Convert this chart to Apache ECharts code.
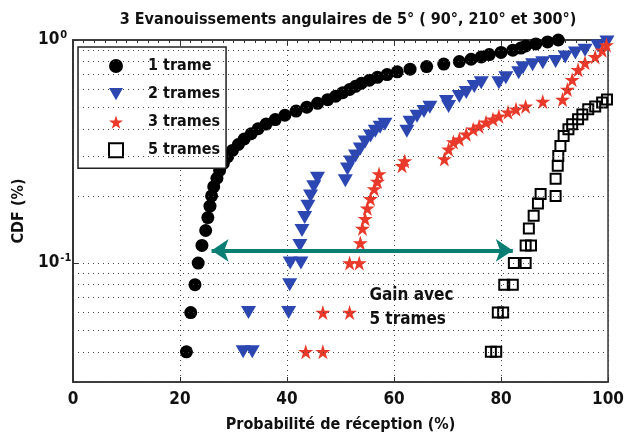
<!DOCTYPE html>
<html>
<head>
<meta charset="utf-8">
<script src="https://cdn.jsdelivr.net/npm/echarts@6/dist/echarts.min.js"></script>
<style>html,body{margin:0;padding:0;background:#fff}#c{width:627px;height:438px}</style>
</head>
<body>
<div id="c"></div>
<script>
// ---- data ----
const xTicks = [0, 20, 40, 60, 80, 100];
const yMinorGrid = [0.04, 0.05, 0.06, 0.07, 0.08, 0.09, 0.2, 0.3, 0.4, 0.5, 0.6, 0.7, 0.8, 0.9];

const trame1X = [21.2,22.0,22.8,23.4,24.1,24.8,25.2,25.6,25.9,26.3,26.9,27.4,28.1,28.9,29.8,30.9,32.0,33.3,34.6,36.1,37.8,39.6,41.7,43.7,45.7,47.6,49.1,50.4,51.7,52.8,53.9,55.4,56.9,58.7,60.6,63.0,66.1,69.3,72.2,74.4,76.3,77.8,80.0,82.2,83.7,84.6,86.5,88.7,90.7];
const trame1Y = [0.04,0.06,0.08,0.10,0.12,0.14,0.16,0.18,0.20,0.22,0.24,0.26,0.28,0.30,0.32,0.34,0.36,0.38,0.40,0.42,0.44,0.46,0.48,0.50,0.52,0.54,0.56,0.58,0.60,0.62,0.64,0.66,0.68,0.70,0.72,0.74,0.76,0.78,0.80,0.82,0.84,0.86,0.88,0.90,0.92,0.94,0.96,0.98,1.00];

const trames2X = [31.8,33.5,32.8,40.3,40.5,40.6,42.6,42.4,42.8,43.3,43.9,44.4,45.0,45.7,50.9,51.3,51.9,52.8,53.7,54.6,55.6,56.5,57.4,58.3,62.4,63.0,64.3,65.6,66.7,69.8,70.2,72.2,73.5,75.0,76.3,79.6,80.9,83.3,84.1,85.9,87.8,90.2,92.0,93.9,95.7,98.1,99.8];
const trames2Y = [0.04,0.04,0.06,0.06,0.08,0.10,0.10,0.12,0.14,0.16,0.18,0.20,0.22,0.24,0.234,0.264,0.284,0.302,0.325,0.349,0.371,0.39,0.406,0.419,0.39,0.428,0.455,0.478,0.499,0.53,0.504,0.558,0.581,0.618,0.644,0.644,0.678,0.714,0.751,0.774,0.79,0.80,0.84,0.875,0.90,0.94,0.98];

const trames3X = [43.5,46.7,46.7,51.7,51.7,53.5,53.7,54.1,54.6,55.0,55.6,56.3,56.9,57.2,61.5,62.0,69.4,70.2,71.1,72.2,73.5,74.8,75.9,77.2,78.5,79.6,81.3,82.8,84.6,87.8,91.5,92.4,93.3,94.4,95.7,97.6,98.9,99.7];
const trames3Y = [0.04,0.04,0.06,0.06,0.10,0.10,0.123,0.143,0.158,0.176,0.194,0.215,0.232,0.251,0.273,0.287,0.293,0.324,0.349,0.359,0.378,0.398,0.41,0.428,0.441,0.455,0.474,0.489,0.504,0.53,0.541,0.60,0.664,0.736,0.79,0.84,0.90,0.95];

const trames5X = [78.1,79.1,79.4,80.4,80.6,82.2,82.4,84.6,84.6,85.6,85.2,86.1,86.9,87.4,90.2,90.2,90.6,90.7,91.1,91.7,92.6,93.3,94.4,95.2,96.3,97.6,98.9,99.8];
const trames5Y = [0.04,0.04,0.06,0.06,0.08,0.08,0.10,0.10,0.12,0.12,0.143,0.163,0.185,0.204,0.20,0.239,0.273,0.302,0.335,0.371,0.398,0.419,0.441,0.464,0.489,0.504,0.525,0.541];

const arrowX = [25.9, 82.2];
const arrowY = 0.114;
const gainLabelPos = [55.4, 0.0631];

const seriesNames = ['1 trame', '2 trames', '3 trames', '5 trames'];
// ---- end data ----

const FONT = "'Liberation Sans Narrow', 'Arial Narrow', 'DejaVu Sans Condensed', sans-serif";
const zip = (xs, ys) => xs.map((x, i) => [x, ys[i]]);
const STAR = 'path://M50,0 L61.2,34.5 L97.6,34.5 L68.2,55.9 L79.4,90.5 L50,69.1 L20.6,90.5 L31.8,55.9 L2.4,34.5 L38.8,34.5 Z';
const TRI_DOWN = 'path://M0,0 L16,0 L8,14 Z';
const dotted = { color: '#444', width: 1, type: [1, 4] };

const chart = echarts.init(document.getElementById('c'), null, { renderer: 'canvas' });
chart.setOption({
  animation: false,
  backgroundColor: '#fff',
  title: {
    text: '3 Evanouissements angulaires de 5° ( 90°, 210° et 300°)',
    left: 343, top: 7, textAlign: 'center',
    textStyle: { fontFamily: FONT, fontWeight: 'bold', fontSize: 16, color: '#111' }
  },
  grid: { left: 73, right: 14, top: 40, bottom: 53, show: true, borderColor: '#333', borderWidth: 1.5, backgroundColor: 'transparent' },
  legend: {
    orient: 'vertical', left: 78, top: 47,
    data: [
      { name: seriesNames[0], icon: 'circle' },
      { name: seriesNames[1], icon: TRI_DOWN },
      { name: seriesNames[2], icon: STAR },
      { name: seriesNames[3], icon: 'rect' }
    ],
    itemWidth: 14, itemHeight: 14, itemGap: 12.1,
    padding: [11, 6, 10, 30],
    borderColor: '#222', borderWidth: 1.5, backgroundColor: '#fff',
    textStyle: { fontFamily: FONT, fontWeight: 'bold', fontSize: 16, color: '#111', padding: [0, 0, 0, 20] }
  },
  xAxis: [{
    type: 'value', min: 0, max: 100, interval: 20,
    axisLine: { show: true, onZero: false, lineStyle: { color: '#333', width: 1.5 } },
    axisTick: { show: true, inside: true, length: 5, lineStyle: { color: '#333' } },
    axisLabel: { fontFamily: FONT, fontWeight: 'bold', fontSize: 17, color: '#111', margin: 9 },
    splitLine: { show: true, lineStyle: dotted },
    name: 'Probabilité de réception (%)', nameLocation: 'middle', nameGap: 35,
    nameTextStyle: { fontFamily: FONT, fontWeight: 'bold', fontSize: 16, color: '#111' }
  }, {
    type: 'value', min: 0, max: 100, interval: 20, position: 'top',
    axisLine: { show: true, lineStyle: { color: '#333', width: 1.5 } },
    axisTick: { show: true, inside: true, length: 5, lineStyle: { color: '#333' } },
    minorTick: { show: true, splitNumber: 10, length: 3, lineStyle: { color: '#333' } },
    axisLabel: { show: false }, splitLine: { show: false }
  }],
  yAxis: [{
    type: 'log', logBase: 10, min: 0.0293, max: 1,
    axisLine: { show: true, lineStyle: { color: '#333', width: 1.5 } },
    axisTick: { show: true, inside: true, length: 5, lineStyle: { color: '#333' } },
    splitLine: { show: true, lineStyle: dotted },
    axisLabel: {
      margin: 35, align: 'left',
      formatter: v => Math.abs(v - 1) < 1e-9 ? '{b|10}{s|0}' : (Math.abs(v - 0.1) < 1e-9 ? '{b|10}{s|-1}' : ''),
      rich: {
        b: { fontFamily: FONT, fontWeight: 'bold', fontSize: 17, color: '#111' },
        s: { fontFamily: FONT, fontWeight: 'bold', fontSize: 11, color: '#111', padding: [0, 0, 10, 1] }
      }
    },
    name: 'CDF (%)', nameLocation: 'middle', nameGap: 46, nameRotate: 90,
    nameTextStyle: { fontFamily: FONT, fontWeight: 'bold', fontSize: 16, color: '#111' }
  }, {
    type: 'log', logBase: 10, min: 0.0293, max: 1, position: 'right',
    axisLine: { show: true, lineStyle: { color: '#333', width: 1.5 } },
    axisTick: { show: false }, axisLabel: { show: false }, splitLine: { show: false }
  }],
  series: [
    {
      name: 'grid', type: 'scatter', data: [], z: 1, silent: true,
      markLine: {
        silent: true, symbol: 'none', animation: false,
        label: { show: false },
        lineStyle: dotted,
        data: yMinorGrid.map(v => ({ yAxis: v }))
      }
    },
    { name: seriesNames[0], type: 'scatter', z: 3, data: zip(trame1X, trame1Y), symbol: 'circle', symbolSize: 13, itemStyle: { color: '#000', opacity: 1 } },
    { name: seriesNames[1], type: 'scatter', z: 3, data: zip(trames2X, trames2Y), symbol: 'triangle', symbolRotate: 180, symbolSize: [15, 13], itemStyle: { color: '#2c47b2', opacity: 1 } },
    { name: seriesNames[2], type: 'scatter', z: 3, data: zip(trames3X, trames3Y), symbol: STAR, symbolSize: 15, itemStyle: { color: '#e8392a', opacity: 1 } },
    { name: seriesNames[3], type: 'scatter', z: 3, data: zip(trames5X, trames5Y), symbol: 'rect', symbolSize: 10, itemStyle: { color: 'rgba(255,255,255,0)', borderColor: '#000', borderWidth: 2, opacity: 1 } },
    {
      name: 'annot', type: 'scatter', data: [], z: 5, silent: true,
      markLine: {
        silent: true, animation: false,
        symbol: ['arrow', 'arrow'], symbolSize: [17, 17],
        label: { show: false },
        lineStyle: { color: '#0b7e74', width: 4, type: 'solid' },
        data: [[{ coord: [arrowX[0], arrowY] }, { coord: [arrowX[1], arrowY] }]]
      },
      markPoint: {
        silent: true, animation: false, symbol: 'circle', symbolSize: 0,
        data: [{ coord: gainLabelPos }],
        label: {
          show: true, position: 'right', distance: 0,
          formatter: 'Gain avec\n5 trames',
          fontFamily: FONT, fontWeight: 'bold', fontSize: 17, lineHeight: 24, color: '#111', align: 'left'
        }
      }
    }
  ]
});
</script>
</body>
</html>
